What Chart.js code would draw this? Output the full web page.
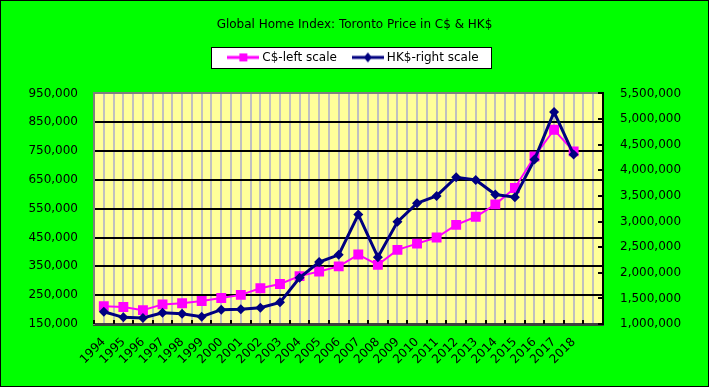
<!DOCTYPE html>
<html>
<head>
<meta charset="utf-8">
<script src="https://cdn.jsdelivr.net/npm/chart.js@4.4.1/dist/chart.umd.min.js"></script>
<style>
  html, body { margin: 0; padding: 0; background: #00ff00; }
  #wrap { width: 709px; height: 387px; }
</style>
</head>
<body>
<div id="wrap"><canvas id="chart" width="709" height="387"></canvas></div>
<script>
// Datos
const years = ['1994', '1995', '1996', '1997', '1998', '1999', '2000', '2001', '2002', '2003',
    '2004', '2005', '2006', '2007', '2008', '2009', '2010', '2011', '2012', '2013',
    '2014', '2015', '2016', '2017', '2018'];
const cadValues = [212000, 209000, 198000, 218000, 222000, 230000, 240000, 251000, 274000, 289000,
    316000, 332000, 350000, 391000, 355000, 407000, 429000, 450000, 494000, 522000,
    565000, 622000, 731000, 824000, 749000];
const hkdValues = [1240000, 1130000, 1117000, 1220000, 1201000, 1142000, 1279000, 1286000, 1318000, 1422000,
    1902000, 2208000, 2350000, 3137000, 2305000, 2993000, 3357000, 3500000, 3864000, 3811000,
    3527000, 3474000, 4208000, 5136000, 4306000];
const leftTicks = { min: 150000, max: 950000, step: 100000 };
const rightTicks = { min: 1000000, max: 5500000, step: 500000 };

const GREEN = '#00ff00';
const PLOT_BG = '#ffff99';
const PINK = '#ff00ff';
const NAVY = '#000080';

Chart.defaults.font.family = "'DejaVu Sans', Verdana, sans-serif";
Chart.defaults.font.size = 12;
Chart.defaults.color = '#000000';

// Icono de leyenda: linea con marcador
function legendIcon(color, shape) {
    const c = document.createElement('canvas');
    c.width = 32;
    c.height = 12;
    const g = c.getContext('2d');
    g.strokeStyle = color;
    g.fillStyle = color;
    g.lineWidth = 3;
    g.beginPath();
    g.moveTo(0, 6);
    g.lineTo(32, 6);
    g.stroke();
    g.beginPath();
    if (shape === 'rect') {
        g.rect(12, 2, 8, 8);
    } else {
        g.moveTo(16, 1);
        g.lineTo(20, 6);
        g.lineTo(16, 11);
        g.lineTo(12, 6);
        g.closePath();
    }
    g.fill();
    return c;
}

const fondoPlugin = {
    id: 'fondo',
    beforeDraw(chart) {
        const { ctx, chartArea: a } = chart;
        ctx.save();
        ctx.fillStyle = GREEN;
        ctx.fillRect(0, 0, chart.width, chart.height);
        ctx.fillStyle = PLOT_BG;
        ctx.fillRect(a.left, a.top, a.right - a.left, a.bottom - a.top);
        // recuadro de la leyenda
        const boxes = chart.legend.legendHitBoxes;
        if (boxes && boxes.length) {
            const left = Math.round(Math.min(...boxes.map(b => b.left)) - 19);
            const right = Math.round(Math.max(...boxes.map(b => b.left + b.width)) + 12);
            const top = Math.round(boxes[0].top + boxes[0].height / 2 - 10);
            ctx.fillStyle = '#ffffff';
            ctx.fillRect(left, top, right - left, 21);
            ctx.strokeStyle = '#000000';
            ctx.lineWidth = 1;
            ctx.strokeRect(left + 0.5, top + 0.5, right - left, 21);
        }
        ctx.restore();
    },
    beforeDatasetsDraw(chart) {
        // marcas interiores en eje derecho e inferior
        const { ctx, chartArea: a, scales } = chart;
        ctx.save();
        ctx.strokeStyle = '#000000';
        ctx.lineWidth = 2;
        ctx.beginPath();
        scales.y1.ticks.forEach(t => {
            const y = Math.round(scales.y1.getPixelForValue(t.value));
            ctx.moveTo(a.right - 5, y);
            ctx.lineTo(a.right, y);
        });
        scales.x.ticks.forEach(t => {
            if (Number.isInteger(t.value)) return;
            const x = Math.round(scales.x.getPixelForValue(t.value));
            ctx.moveTo(x, a.bottom - 4);
            ctx.lineTo(x, a.bottom);
        });
        ctx.stroke();
        ctx.restore();
    },
    afterDraw(chart) {
        // borde del grafico
        const { ctx } = chart;
        ctx.save();
        ctx.strokeStyle = '#000000';
        ctx.lineWidth = 1;
        ctx.strokeRect(0.5, 0.5, chart.width - 1, chart.height - 1);
        ctx.restore();
    }
};

const ctx = document.getElementById('chart').getContext('2d');

new Chart(ctx, {
    type: 'line',
    data: {
        datasets: [{
            label: 'C$-left scale',
            data: cadValues.map((v, i) => ({ x: i, y: v })),
            yAxisID: 'y',
            borderColor: PINK,
            backgroundColor: PINK,
            borderWidth: 2,
            pointStyle: 'rect',
            pointRadius: 7,
            pointHoverRadius: 7,
            pointBorderWidth: 0,
            order: 2,
            legendIcon: legendIcon(PINK, 'rect')
        }, {
            label: 'HK$-right scale',
            data: hkdValues.map((v, i) => ({ x: i, y: v })),
            yAxisID: 'y1',
            borderColor: NAVY,
            backgroundColor: NAVY,
            borderWidth: 3,
            pointStyle: 'rectRot',
            pointRadius: 5,
            pointHoverRadius: 5,
            pointBorderWidth: 0,
            order: 1,
            legendIcon: legendIcon(NAVY, 'diamond')
        }]
    },
    options: {
        responsive: false,
        devicePixelRatio: 1,
        animation: false,
        layout: { padding: { top: 0, left: 0, right: 0, bottom: 0 } },
        plugins: {
            title: {
                display: true,
                text: 'Global Home Index: Toronto Price in C$ & HK$',
                font: { size: 12, weight: 'normal' },
                color: '#000000',
                padding: { top: 18, bottom: 1 }
            },
            // espacio vacio entre la leyenda y el area del grafico
            subtitle: {
                display: true,
                text: ' ',
                weight: 500,
                font: { size: 10, lineHeight: 1 },
                padding: { top: 5, bottom: 5 }
            },
            legend: {
                display: true,
                weight: 1000,
                labels: {
                    usePointStyle: true,
                    pointStyleWidth: 26,
                    boxHeight: 12,
                    padding: 18,
                    color: '#000000',
                    font: { size: 12 },
                    generateLabels(chart) {
                        return chart.data.datasets.map((ds, i) => ({
                            text: ds.label,
                            pointStyle: ds.legendIcon,
                            fillStyle: ds.backgroundColor,
                            strokeStyle: ds.borderColor,
                            lineWidth: 0,
                            hidden: false,
                            datasetIndex: i,
                            fontColor: '#000000'
                        }));
                    }
                }
            },
            tooltip: { enabled: false }
        },
        scales: {
            x: {
                type: 'linear',
                position: 'bottom',
                min: -0.5,
                max: years.length + 0.5,
                afterFit(scale) { scale.height = 63; },
                grid: { color: '#c0c0c0', lineWidth: 2, drawTicks: false },
                border: { color: '#404040', width: 3 },
                ticks: {
                    stepSize: 0.5,
                    autoSkip: false,
                    minRotation: 45,
                    maxRotation: 45,
                    padding: 11,
                    font: { size: 12 },
                    callback: (value) => Number.isInteger(value) && years[value] ? years[value] : ''
                }
            },
            y: {
                position: 'left',
                min: leftTicks.min,
                max: leftTicks.max,
                afterFit(scale) { scale.width = 94; },
                grid: {
                    color: (c) => c.tick && c.tick.value === leftTicks.max ? '#808080' : '#000000',
                    lineWidth: 2,
                    drawTicks: false
                },
                border: { color: '#808080', width: 2 },
                ticks: {
                    stepSize: leftTicks.step,
                    padding: 16,
                    callback: (v) => v.toLocaleString('en-US')
                }
            },
            y1: {
                position: 'right',
                min: rightTicks.min,
                max: rightTicks.max,
                afterFit(scale) { scale.width = 106; },
                grid: { drawOnChartArea: false, drawTicks: false },
                border: { color: '#000000', width: 2 },
                ticks: {
                    stepSize: rightTicks.step,
                    padding: 17,
                    callback: (v) => v.toLocaleString('en-US')
                }
            }
        }
    },
    plugins: [fondoPlugin]
});
</script>
</body>
</html>
